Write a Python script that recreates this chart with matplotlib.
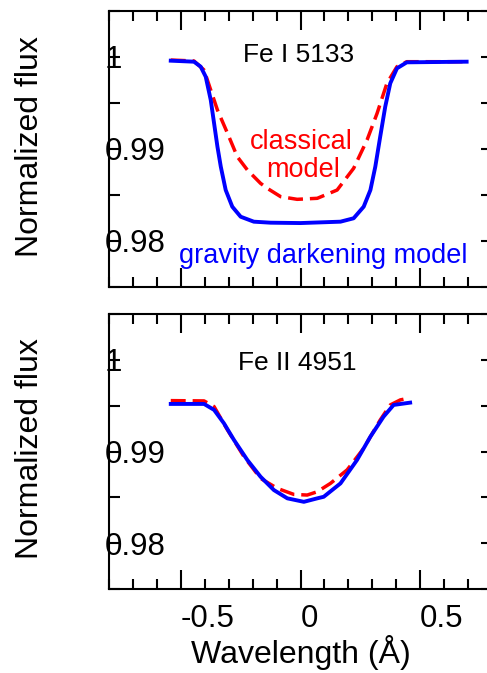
import matplotlib
matplotlib.use('Agg')
import matplotlib.pyplot as plt
from matplotlib.ticker import MultipleLocator, FixedLocator, FixedFormatter

plt.rcParams['font.family'] = ['Liberation Sans', 'DejaVu Sans']

# Fe I 5133 (top panel), gravity darkening model
fe1_gd_wl = [-0.542, -0.445, -0.417, -0.396, -0.375, -0.361, -0.347, -0.333, -0.3125, -0.285,
             -0.25, -0.195, -0.125, 0.0, 0.167, 0.222, 0.264, 0.292, 0.3125, 0.333,
             0.354, 0.375, 0.403, 0.444, 0.694]
fe1_gd_flux = [0.9996, 0.99949, 0.99895, 0.99786, 0.99533, 0.99279, 0.99025, 0.98808, 0.98554, 0.98373,
               0.98264, 0.9821, 0.98199, 0.98195, 0.9821, 0.98247, 0.98373, 0.98554, 0.98808, 0.99134,
               0.9946, 0.99714, 0.99877, 0.99942, 0.99949]
# Fe I 5133, classical model
fe1_cl_wl = [-0.542, -0.445, -0.403, -0.375, -0.347, -0.305, -0.264, -0.222, -0.167, -0.139,
             -0.083, -0.014, 0.07, 0.153, 0.222, 0.278, 0.32, 0.361, 0.403, 0.444, 0.694]
fe1_cl_flux = [0.99967, 0.99957, 0.99859, 0.99641, 0.99424, 0.99171, 0.98916, 0.98772, 0.98627, 0.98573,
               0.98482, 0.98453, 0.98464, 0.98554, 0.9879, 0.99098, 0.99388, 0.99714, 0.99895, 0.99949,
               0.99949]

# Fe II 4951 (bottom panel), gravity darkening model
fe2_gd_wl = [-0.542, -0.403, -0.361, -0.32, -0.278, -0.222, -0.167, -0.111, -0.055, 0.014,
             0.07, 0.097, 0.167, 0.236, 0.292, 0.347, 0.389, 0.458]
fe2_gd_flux = [0.99519, 0.99519, 0.99454, 0.99308, 0.99126, 0.98907, 0.98725, 0.98579, 0.98489, 0.98451,
               0.98489, 0.98506, 0.98652, 0.98907, 0.99162, 0.9938, 0.99508, 0.99533]
# Fe II 4951, classical model
fe2_cl_wl = [-0.542, -0.403, -0.361, -0.305, -0.236, -0.167, -0.097, -0.028, 0.028, 0.07,
             0.125, 0.195, 0.264, 0.333, 0.375, 0.417, 0.438]
fe2_cl_flux = [0.99555, 0.99552, 0.9949, 0.99235, 0.98943, 0.98707, 0.98598, 0.98532, 0.98525, 0.98561,
               0.98652, 0.9880, 0.99035, 0.99344, 0.99508, 0.99563, 0.99574]

ytick_vals = [0.98, 0.99, 1.0]
ytick_labels = ['0.98', '0.99', '1']
xtick_vals = [-0.5, 0.0, 0.5]
xtick_labels = ['-0.5', '0', '0.5']

fig = plt.figure(figsize=(4.87, 6.73), dpi=100)
ax1 = fig.add_axes([109/487, 1-287/673, 383/487, 276/673])
ax2 = fig.add_axes([109/487, 1-589/673, 383/487, 275/673])

for ax, gd_wl, gd_fl, cl_wl, cl_fl in [(ax1, fe1_gd_wl, fe1_gd_flux, fe1_cl_wl, fe1_cl_flux),
                                        (ax2, fe2_gd_wl, fe2_gd_flux, fe2_cl_wl, fe2_cl_flux)]:
    ax.plot(cl_wl, cl_fl, color='#ff0000', lw=2.5, ls=(0, (4.3, 2.0)), zorder=2)
    ax.plot(gd_wl, gd_fl, color='#0000ff', lw=2.8, zorder=3, solid_joinstyle='round')
    ax.set_xlim(-0.8, 0.8)
    ax.set_ylim(0.975, 1.005)
    for s in ax.spines.values():
        s.set_linewidth(1.5)
    ax.xaxis.set_major_locator(FixedLocator(xtick_vals))
    ax.xaxis.set_major_formatter(FixedFormatter(xtick_labels))
    ax.xaxis.set_minor_locator(MultipleLocator(0.1))
    ax.yaxis.set_major_locator(FixedLocator(ytick_vals))
    ax.yaxis.set_major_formatter(FixedFormatter(ytick_labels))
    ax.yaxis.set_minor_locator(MultipleLocator(0.005))
    ax.tick_params(axis='x', which='major', direction='in', length=14, width=1.5,
                   top=True, bottom=True, labelsize=22.5, pad=11)
    ax.tick_params(axis='x', which='minor', direction='in', length=7, width=1.5,
                   top=True, bottom=True)
    ax.tick_params(axis='y', which='both', direction='in', length=8, width=1.5,
                   left=True, right=True, labelsize=22.5, pad=3)
    plt.setp(ax.get_yticklabels(), ha='left')
    plt.setp(ax.get_xticklabels(), ha='left')
    ax.set_ylabel('Normalized flux', fontsize=23, va='baseline')
    ax.yaxis.set_label_coords(-0.1854, 0.51)

ax1.tick_params(axis='x', labelbottom=False)
ax2.set_xlabel('Wavelength (Å)', fontsize=23, va='baseline')
ax2.xaxis.set_label_coords(0.5, -0.269)

ax1.text(0.496, 0.815, 'Fe I 5133', transform=ax1.transAxes, ha='center', va='baseline', fontsize=19)
ax1.text(0.501, 0.5, 'classical', transform=ax1.transAxes, ha='center', va='baseline',
         fontsize=19.5, color='#ff0000')
ax1.text(0.506, 0.398, 'model', transform=ax1.transAxes, ha='center', va='baseline',
         fontsize=19.5, color='#ff0000')
ax1.text(0.56, 0.087, 'gravity darkening model', transform=ax1.transAxes, ha='center',
         va='baseline', fontsize=19.5, color='#0000ff')
ax2.text(0.492, 0.796, 'Fe II 4951', transform=ax2.transAxes, ha='center', va='baseline', fontsize=19)

fig.savefig('out.png', dpi=100)
